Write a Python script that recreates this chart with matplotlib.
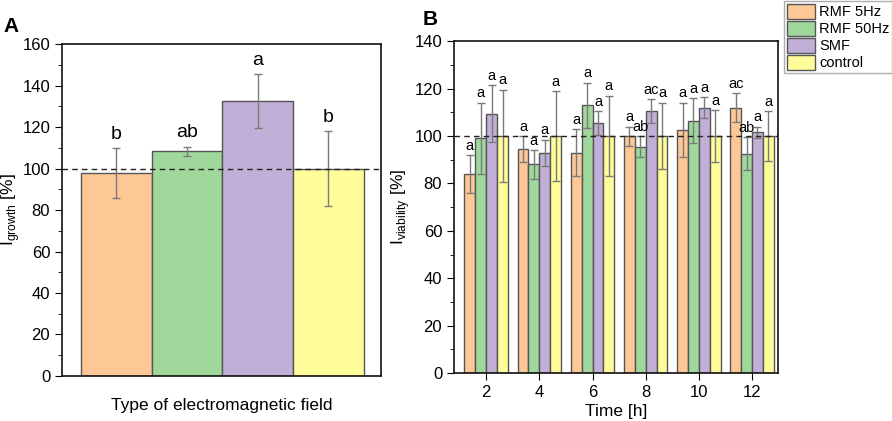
import numpy as np
import matplotlib
matplotlib.use('Agg')
import matplotlib.pyplot as plt
from matplotlib.ticker import MultipleLocator
from matplotlib.patches import Patch

plt.rcParams['font.family'] = ['Liberation Sans', 'DejaVu Sans']
plt.rcParams['font.size'] = 12

# data
series = ['RMF 5Hz', 'RMF 50Hz', 'SMF', 'control']
colors = ['#fdc896', '#a0d89c', '#c1afd7', '#fffd9a']

growth = [98.0, 108.3, 132.7, 100.0]
growth_err = [12.0, 2.3, 13.0, 18.0]
growth_letters = ['b', 'ab', 'a', 'b']

hours = [2, 4, 6, 8, 10, 12]
via_rmf5 = [84, 94.5, 93, 100, 102.5, 112]
via_rmf50 = [99, 88, 113, 95.5, 106.5, 92.5]
via_smf = [109.5, 93, 105.5, 110.5, 112, 101.5]
via_ctrl = [100, 100, 100, 100, 100, 100]
err_rmf5 = [8, 5.5, 10, 4, 11.5, 6]
err_rmf50 = [15, 6, 9.5, 4.5, 9.5, 7]
err_smf = [12, 5.5, 5, 5, 4.5, 2.5]
err_ctrl = [19.5, 19, 17, 14, 11, 10.5]
let_rmf5 = ['a', 'a', 'a', 'a', 'a', 'ac']
let_rmf50 = ['a', 'a', 'a', 'ab', 'a', 'ab']
let_smf = ['a', 'a', 'a', 'ac', 'a', 'a']
let_ctrl = ['a', 'a', 'a', 'a', 'a', 'a']

edge = '#555555'
ekw = dict(ecolor='#7a7a7a', elinewidth=1.0, capsize=3, capthick=1.0)

fig = plt.figure(figsize=(8.92, 4.21), dpi=100)

# panel A
axA = fig.add_axes([0.0695, 0.107, 0.358, 0.788])
xA = np.arange(1, 5)
axA.bar(xA, growth, width=1.0, color=colors, edgecolor=edge, linewidth=1.0,
        yerr=growth_err, error_kw=ekw, zorder=2)
for x, v, e, t in zip(xA, growth, growth_err, growth_letters):
    axA.text(x, v + e + 2.5, t, ha='center', va='bottom', fontsize=14)
axA.axhline(100, color='#222222', ls=(0, (4, 3)), lw=1.0, zorder=3)
axA.set_xlim(0.23, 4.75)
axA.set_ylim(0, 160)
axA.yaxis.set_major_locator(MultipleLocator(20))
axA.yaxis.set_minor_locator(MultipleLocator(10))
axA.set_xticks([])
axA.tick_params(axis='y', which='major', direction='out', length=5, labelsize=12)
axA.tick_params(axis='y', which='minor', direction='out', length=3)
axA.set_ylabel('I$_{\\mathregular{growth}}$ [%]', fontsize=12.5, labelpad=0)
axA.set_xlabel('Type of electromagnetic field', fontsize=12.5, labelpad=16)
fig.text(0.004, 0.925, 'A', fontsize=15, fontweight='bold')

# panel B
axB = fig.add_axes([0.509, 0.114, 0.363, 0.788])
w = 0.41
vals = [via_rmf5, via_rmf50, via_smf, via_ctrl]
errs = [err_rmf5, err_rmf50, err_smf, err_ctrl]
lets = [let_rmf5, let_rmf50, let_smf, let_ctrl]
hx = np.array(hours, dtype=float)
for i in range(4):
    xs = hx + (i - 1.5) * w
    axB.bar(xs, vals[i], width=w, color=colors[i], edgecolor=edge, linewidth=1.0,
            yerr=errs[i], error_kw=ekw, zorder=2)
    for x, v, e, t in zip(xs, vals[i], errs[i], lets[i]):
        axB.text(x, v + e + 1.0, t, ha='center', va='bottom', fontsize=10.5)
axB.axhline(100, color='#222222', ls=(0, (4, 3)), lw=1.0, zorder=3)
axB.set_xlim(0.79, 12.97)
axB.set_ylim(0, 140)
axB.set_xticks(hours)
axB.yaxis.set_major_locator(MultipleLocator(20))
axB.yaxis.set_minor_locator(MultipleLocator(10))
axB.tick_params(axis='both', which='major', direction='out', length=5, labelsize=12)
axB.tick_params(axis='y', which='minor', direction='out', length=3)
axB.set_ylabel('I$_{\\mathregular{viability}}$ [%]', fontsize=12.5, labelpad=2)
axB.set_xlabel('Time [h]', fontsize=12.5, labelpad=3)
fig.text(0.474, 0.94, 'B', fontsize=15, fontweight='bold')

for ax in (axA, axB):
    for s in ax.spines.values():
        s.set_linewidth(1.2)
        s.set_color('#111111')

handles = [Patch(facecolor=c, edgecolor=edge, label=s) for c, s in zip(colors, series)]
leg = fig.legend(handles=handles, loc='upper left', bbox_to_anchor=(0.878, 1.0),
                 frameon=True, fancybox=False, edgecolor='#999999', fontsize=10.5,
                 handlelength=1.9, handleheight=1.25, handletextpad=0.3,
                 borderpad=0.2, labelspacing=0.1, borderaxespad=0.05)
leg.get_frame().set_linewidth(1.0)

fig.savefig('out.png', dpi=100)
